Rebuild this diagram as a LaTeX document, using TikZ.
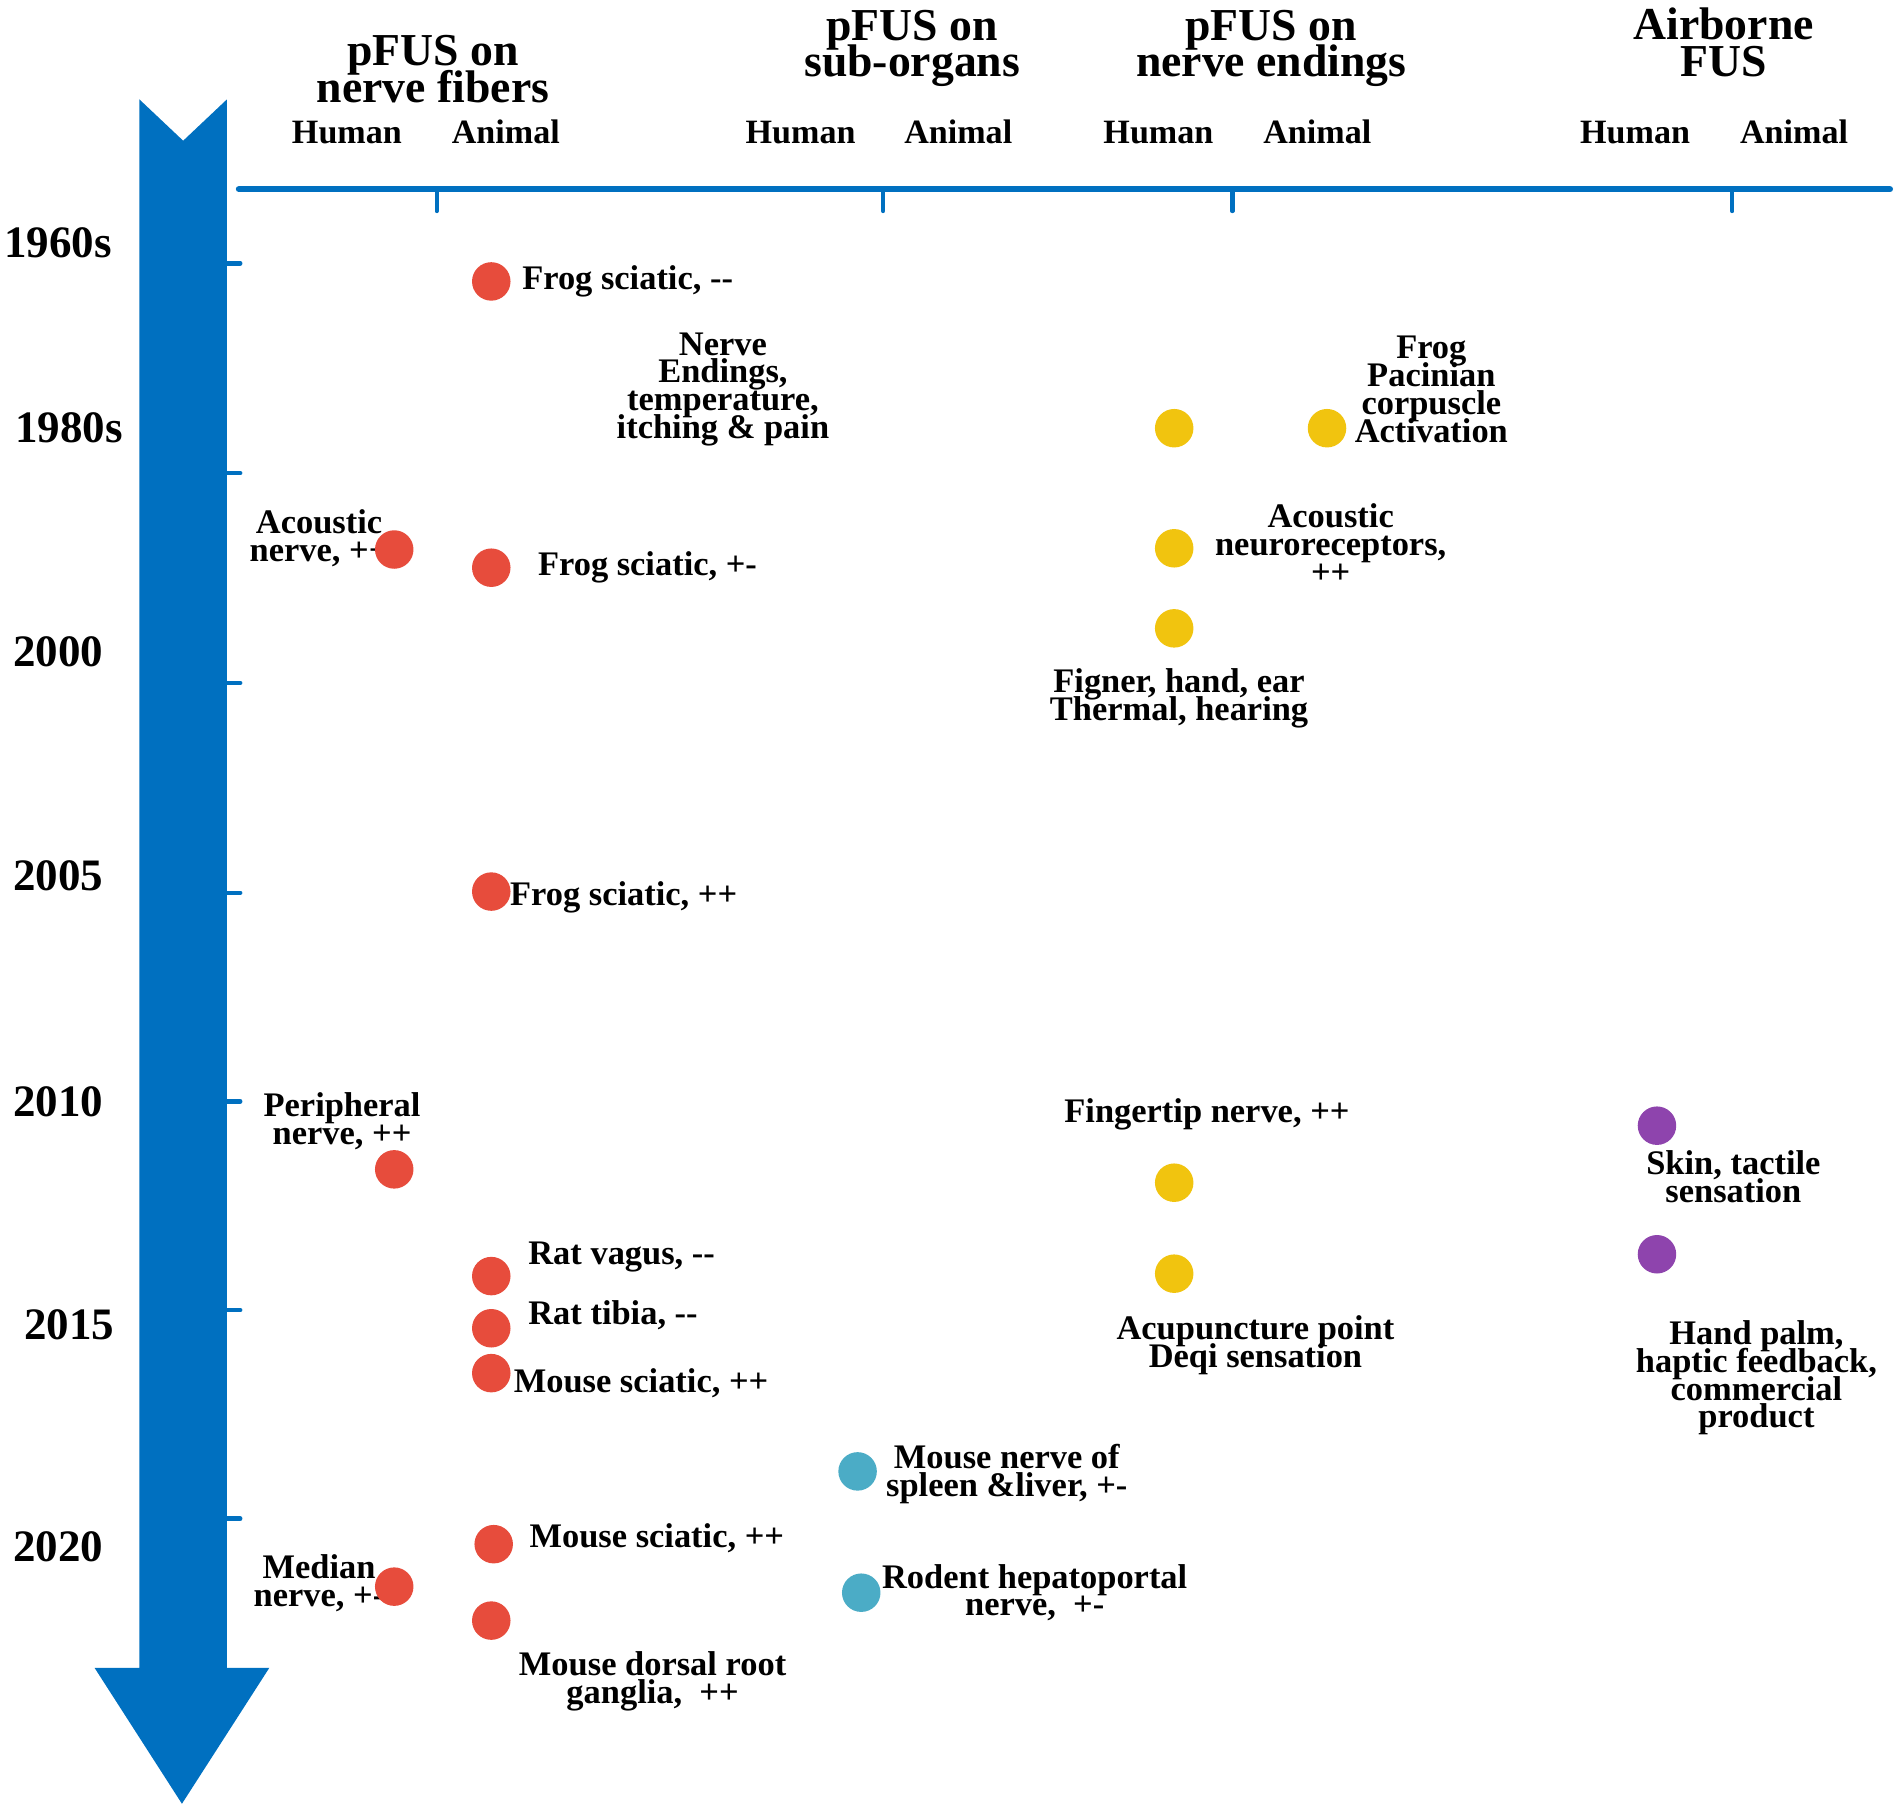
\documentclass[tikz,border=0pt]{standalone}
\usepackage{fontspec}
\setmainfont{Liberation Serif}
\usepackage{tikz}
\usetikzlibrary{calc}

\definecolor{axisblue}{RGB}{0,112,192}
\definecolor{dotred}{RGB}{231,76,60}
\definecolor{dotyellow}{RGB}{241,196,15}
\definecolor{dotcyan}{RGB}{75,172,198}
\definecolor{dotpurple}{RGB}{142,68,173}

\newcommand{\tightlines}{\lineskiplimit=-100pt\relax\lineskip=0pt\relax}

\tikzset{
	dot/.style={circle, minimum size=0.385cm, inner sep=0pt},
	lab/.style={inner sep=0pt, align=center, font=\bfseries\fontsize{9.8}{7.9}\selectfont\tightlines},
	yearlab/.style={inner sep=0pt, font=\bfseries\fontsize{12.8}{12.8}\selectfont},
	grouplab/.style={inner sep=0pt, align=center, font=\bfseries\fontsize{13}{10.4}\selectfont\tightlines},
	sublab/.style={inner sep=0pt, font=\bfseries\fontsize{9.7}{9.7}\selectfont},
}

\begin{document}
\begin{tikzpicture}[x=0.01213cm, y=-0.01213cm]
	
	\useasboundingbox (0,0) rectangle (1568,1493);
	
	% time arrow
	\fill[axisblue] (115,82) -- (151,116) -- (187,82) -- (187,1375) -- (222,1375)
		-- (150,1487) -- (78,1375) -- (115,1375) -- cycle;
	\foreach \y in {217,390,563,736,908,1080,1252}
		\draw[axisblue, line width=1.3pt, line cap=round] (187,\y) -- (198,\y);
	
	% category axis
	\coordinate (h1) at (197,156);
	\coordinate (h2) at (1558,156);
	\draw[axisblue, line width=1.8pt, line cap=round] (h1) -- (h2);
	\foreach \x in {360,728,1016,1428}
		\draw[axisblue, line width=1.2pt, line cap=round] (\x,156) -- (\x,174);
	
	% years
	\node[yearlab] (y60) at (48,200) {1960s};
	\node[yearlab] (y80) at (57,353) {1980s};
	\node[yearlab] (y00) at (48,537) {2000};
	\node[yearlab] (y05) at (48,722) {2005};
	\node[yearlab] (y10) at (48,908) {2010};
	\node[yearlab] (y15) at (57,1092) {2015};
	\node[yearlab] (y20) at (48,1275) {2020};
	
	% groups
	\node[grouplab] (g1) at (357,57) {pFUS on\\nerve fibers};
	\node[grouplab] (g2) at (752,40) {pFUS on\\sub-organs};
	\node[grouplab] (g3) at (1048,40) {pFUS on\\nerve endings};
	\node[grouplab] (g4) at (1421,35) {Airborne\\FUS};
	\node[sublab] (hu1) at (286,109) {Human};
	\node[sublab] (an1) at (417,109) {Animal};
	\node[sublab] (hu2) at (660,109) {Human};
	\node[sublab] (an2) at (790,109) {Animal};
	\node[sublab] (hu3) at (955,109) {Human};
	\node[sublab] (an3) at (1086,109) {Animal};
	\node[sublab] (hu4) at (1348,109) {Human};
	\node[sublab] (an4) at (1479,109) {Animal};
	
	% nerve fibers
	\node[dot, fill=dotred] (r1) at (405,232) {};
	\node[lab, anchor=west] (t1) at (430,232) {Frog sciatic, -{}-};
	\node[lab] (t2) at (263,444) {Acoustic\\nerve, ++};
	\node[dot, fill=dotred] (r2) at (325,453) {};
	\node[dot, fill=dotred] (r3) at (405,468) {};
	\node[lab, anchor=west] (t3) at (443,468) {Frog sciatic, +-};
	\node[dot, fill=dotred] (r4) at (405,735) {};
	\node[lab, anchor=west] (t4) at (420,740) {Frog sciatic, ++};
	\node[lab] (t5) at (282,924) {Peripheral\\nerve, ++};
	\node[dot, fill=dotred] (r5) at (325,964) {};
	\node[dot, fill=dotred] (r6) at (405,1052) {};
	\node[lab, anchor=west] (t6) at (435,1036) {Rat vagus, -{}-};
	\node[dot, fill=dotred] (r7) at (405,1095) {};
	\node[lab, anchor=west] (t7) at (435,1084) {Rat tibia, -{}-};
	\node[dot, fill=dotred] (r8) at (405,1132) {};
	\node[lab, anchor=west] (t8) at (423,1140) {Mouse sciatic, ++};
	\node[dot, fill=dotred] (r9) at (407,1273) {};
	\node[lab, anchor=west] (t9) at (436,1268) {Mouse sciatic, ++};
	\node[lab] (t10) at (263,1305) {Median\\nerve, +-};
	\node[dot, fill=dotred] (r10) at (325,1308) {};
	\node[dot, fill=dotred] (r11) at (405,1336) {};
	\node[lab] (t11) at (538,1386) {Mouse dorsal root\\ganglia,\ \ ++};
	
	% sub-organs
	\node[lab] (t12) at (596,321) {Nerve\\Endings,\\temperature,\\itching \& pain};
	\node[dot, fill=dotcyan] (c1) at (707,1213) {};
	\node[lab] (t13) at (830,1215) {Mouse nerve of\\spleen \&liver, +-};
	\node[dot, fill=dotcyan] (c2) at (710,1313) {};
	\node[lab] (t14) at (853,1313) {Rodent hepatoportal\\nerve,\ \ +-};
	
	% nerve endings
	\node[dot, fill=dotyellow] (e1) at (968,353) {};
	\node[dot, fill=dotyellow] (e2) at (1094,353) {};
	\node[lab] (t15) at (1180,321) {Frog\\Pacinian\\corpuscle\\Activation};
	\node[dot, fill=dotyellow] (e3) at (968,452) {};
	\node[lab] (t16) at (1097,448) {Acoustic\\neuroreceptors,\\++};
	\node[dot, fill=dotyellow] (e4) at (968,518) {};
	\node[lab] (t17) at (972,576) {Figner, hand, ear\\Thermal, hearing};
	\node[lab] (t18) at (995,919) {Fingertip nerve, ++};
	\node[dot, fill=dotyellow] (e5) at (968,975) {};
	\node[dot, fill=dotyellow] (e6) at (968,1050) {};
	\node[lab] (t19) at (1035,1109) {Acupuncture point\\Deqi sensation};
	
	% airborne
	\node[dot, fill=dotpurple] (p1) at (1366,928) {};
	\node[lab] (t20) at (1429,970) {Skin, tactile\\sensation};
	\node[dot, fill=dotpurple] (p2) at (1366,1034) {};
	\node[lab] (t21) at (1448,1136) {Hand palm,\\haptic feedback,\\commercial\\product};
	
\end{tikzpicture}
\end{document}
